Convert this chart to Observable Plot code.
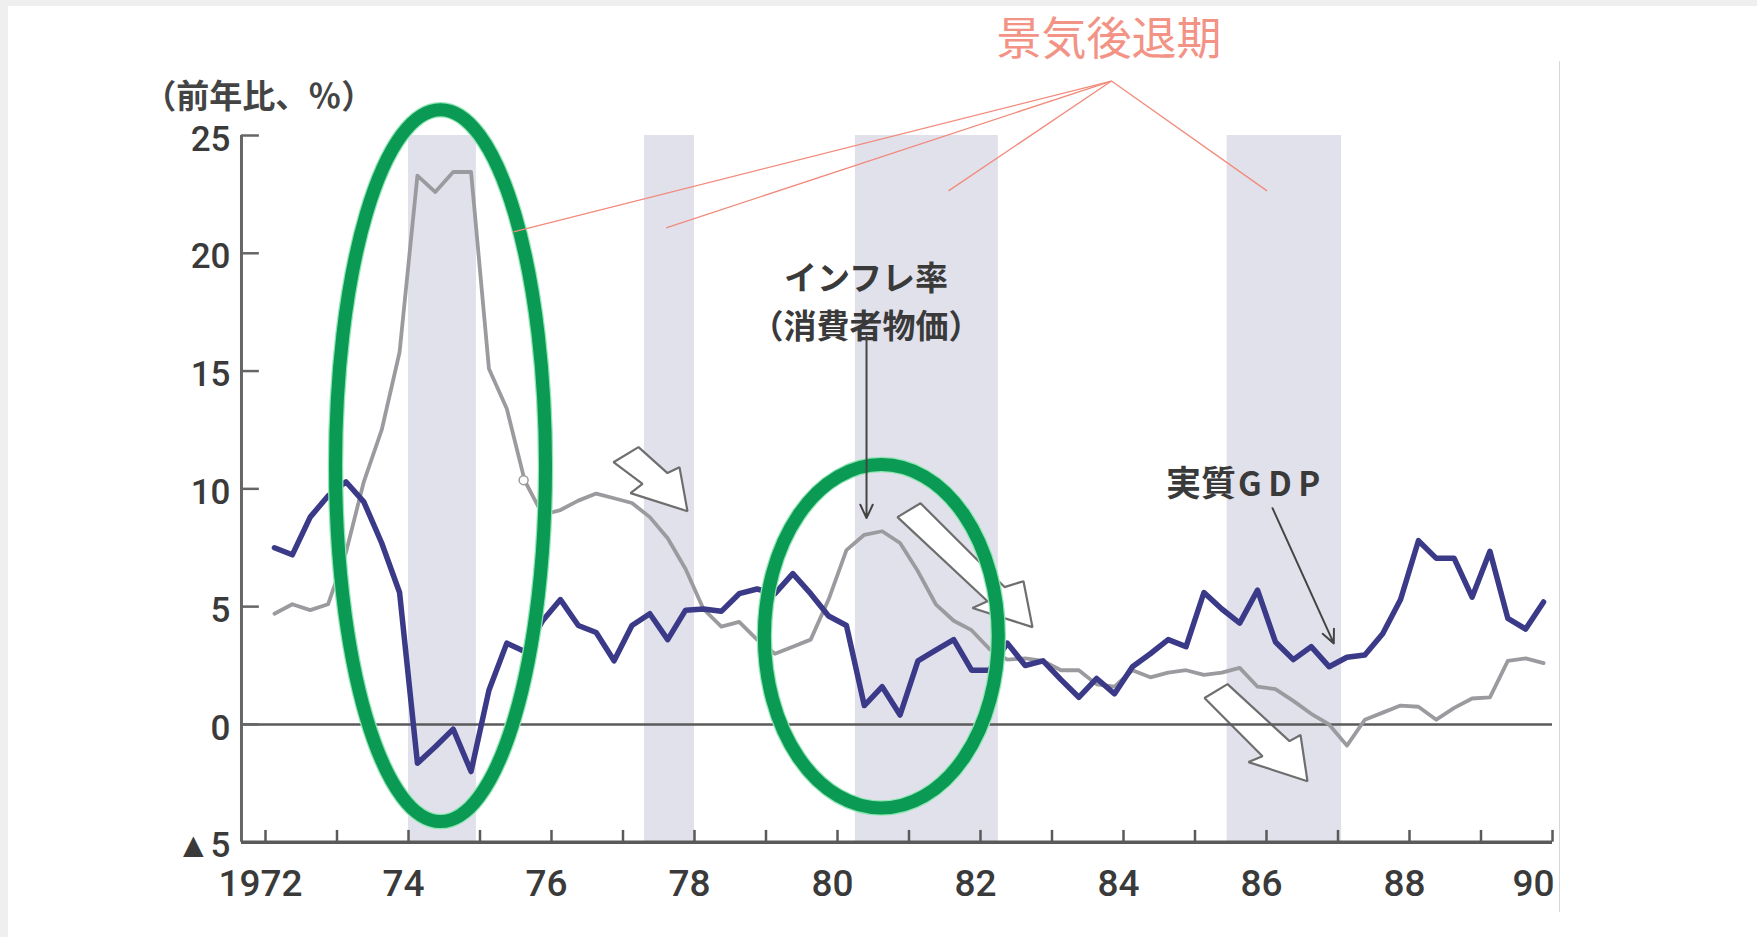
<!DOCTYPE html>
<html><head><meta charset="utf-8">
<script src="https://cdn.jsdelivr.net/npm/d3@7"></script>
<script src="https://cdn.jsdelivr.net/npm/@observablehq/plot@0.6"></script>
<style>
html,body{margin:0;padding:0;background:#efefef;width:1757px;height:937px;overflow:hidden}
#paper{position:absolute;left:8px;top:6px;width:1749px;height:931px;background:#fff}
#edge{position:absolute;left:1559px;top:61px;width:1px;height:851px;background:#d8d8d8}
#chart{position:absolute;left:0;top:0;width:1757px;height:937px}
</style></head><body>
<div id="paper"></div>
<div id="edge"></div>
<div id="chart"></div>
<script>
// ---- data (quarterly, year-on-year %) ----
const startYear = 1972;
const gdp = [
  7.5, 7.2, 8.8, 9.7,     // 1972
  10.3, 9.45, 7.7, 5.6,   // 1973
  -1.65, -0.95, -0.2, -2.0, // 1974
  1.45, 3.45, 3.1, 4.4,   // 1975
  5.3, 4.2, 3.9, 2.7,     // 1976
  4.2, 4.7, 3.6, 4.85,    // 1977
  4.9, 4.8, 5.55, 5.75,   // 1978
  5.55, 6.4, 5.55, 4.6,   // 1979
  4.2, 0.8, 1.6, 0.4,     // 1980
  2.7, 3.15, 3.6, 2.3,    // 1981
  2.3, 3.45, 2.5, 2.7,    // 1982
  1.9, 1.15, 1.95, 1.3,   // 1983
  2.45, 3.0, 3.6, 3.3,    // 1984
  5.6, 4.9, 4.3, 5.7,     // 1985
  3.5, 2.75, 3.3, 2.45,   // 1986
  2.85, 2.95, 3.85, 5.3,  // 1987
  7.8, 7.05, 7.05, 5.4,   // 1988
  7.35, 4.5, 4.05, 5.2    // 1989
];
const cpi = [
  4.7, 5.1, 4.85, 5.1,    // 1972
  7.3, 10.3, 12.5, 15.8,  // 1973
  23.3, 22.6, 23.45, 23.45, // 1974
  15.1, 13.4, 10.35, 8.9, // 1975
  9.1, 9.5, 9.8, 9.6,     // 1976
  9.4, 8.8, 7.9, 6.6,     // 1977
  4.9, 4.15, 4.35, 3.6,   // 1978
  3.0, 3.3, 3.6, 5.3,     // 1979
  7.4, 8.05, 8.2, 7.7,    // 1980
  6.5, 5.1, 4.4, 4.0,     // 1981
  3.2, 2.75, 2.8, 2.7,    // 1982
  2.3, 2.3, 1.7, 1.6,     // 1983
  2.3, 2.0, 2.2, 2.3,     // 1984
  2.1, 2.2, 2.4, 1.6,     // 1985
  1.5, 1.0, 0.45, 0.0,    // 1986
  -0.9, 0.2, 0.5, 0.8,    // 1987
  0.75, 0.2, 0.7, 1.1,    // 1988
  1.15, 2.7, 2.8, 2.6     // 1989
];
const cpiMarker = [{t: 1975.61, v: 10.37}];

// recession periods (景気後退期)
const recessionStart = [1974.0, 1977.3, 1980.25, 1985.45];
const recessionEnd   = [1974.95, 1978.0, 1982.25, 1987.05];

// axes
const yTicks = [-5, 0, 5, 10, 15, 20, 25];
const yTickLabels = ["▲5", "0", "5", "10", "15", "20", "25"];
const xTickYears = [1972,1973,1974,1975,1976,1977,1978,1979,1980,1981,1982,1983,1984,1985,1986,1987,1988,1989,1990];
const xLabelYears = [1972, 1974, 1976, 1978, 1980, 1982, 1984, 1986, 1988];
const xLabels = ["1972", "74", "76", "78", "80", "82", "84", "86", "88"];
const xLastYear = [1990];
const xLastLabel = ["90"];
const axisX0 = 1971.664;

// annotation geometry in data units (year, %)
const arrowA = [[1976.867,11.13],[1977.217,11.77],[1977.622,10.67],[1977.79,10.92],[1977.902,9.05],[1977.105,9.82],[1977.273,10.21]];
const arrowB = [[1980.839,8.80],[1981.161,9.39],[1982.336,5.83],[1982.601,6.08],[1982.727,4.13],[1981.888,4.94],[1982.098,5.23]];
const arrowC = [[1985.133,1.12],[1985.455,1.71],[1986.322,-0.71],[1986.476,-0.45],[1986.573,-2.41],[1985.748,-1.60],[1985.944,-1.35]];
const ellipses = [
  {cx: 1974.455, cy: 10.965, rx: 1.4685, ry: 15.11},
  {cx: 1980.62, cy: 3.72, rx: 1.636, ry: 7.29}
];
const salmonApex = [1983.832, 27.31];
const salmonEnds = [[1975.469, 20.91], [1977.603, 21.08], [1981.552, 22.65], [1986.007, 22.65]];
const pointers = [
  {x1: 1980.406, y1: 16.48, x2: 1980.406, y2: 8.76},
  {x1: 1986.084, y1: 9.18, x2: 1986.941, y2: 3.44}
];

// ---- build tables ----
const toRows = arr => arr.map((v, i) => ({t: startYear + (i + 0.5) / 4, v}));
const gdpRows = toRows(gdp);
const cpiRows = toRows(cpi);
const recessions = recessionStart.map((s, i) => ({start: s, end: recessionEnd[i]}));
const arrowRows = [["A", arrowA], ["B", arrowB], ["C", arrowC]]
  .flatMap(([id, pts]) => pts.map(([x, y]) => ({id, x, y})));
const salmonRows = salmonEnds.map(([x, y]) => ({x1: salmonApex[0], y1: salmonApex[1], x2: x, y2: y}));
const yLabelRows = yTicks.map((v, i) => ({v, label: yTickLabels[i]}));
const xLabelRows = xLabelYears.map((y, i) => ({y, label: xLabels[i]}));
const xLastRows = xLastYear.map((y, i) => ({y, label: xLastLabel[i]}));

const numFont = "Roboto, 'Liberation Sans', sans-serif";
const cjkFont = "'Noto Sans CJK JP', 'Noto Sans', sans-serif";
const axisColor = "#5a5a5a";
const textColor = "#3a3a3a";

const plot = Plot.plot({
  width: 1757, height: 937,
  marginLeft: 265, marginRight: 205, marginTop: 135, marginBottom: 95.3,
  x: {domain: [1972, 1990], axis: null},
  y: {domain: [-5, 25], axis: null},
  style: {background: "transparent", overflow: "visible"},
  marks: [
    Plot.rect(recessions, {x1: "start", x2: "end", y1: -5, y2: 25, fill: "#e1e1ec"}),
    Plot.line(arrowRows, {x: "x", y: "y", z: "id", curve: "linear-closed", fill: "white", stroke: "#6e6e6e", strokeWidth: 2.2, strokeLinejoin: "miter"}),
    Plot.ruleY([0], {x1: axisX0, x2: 1990, stroke: axisColor, strokeWidth: 2.5}),
    Plot.line(cpiRows, {x: "t", y: "v", stroke: "#9b9b9f", strokeWidth: 3.8}),
    Plot.dot(cpiMarker, {x: "t", y: "v", r: 4.5, fill: "white", stroke: "#9b9b9f", strokeWidth: 1.5}),
    Plot.line(gdpRows, {x: "t", y: "v", stroke: "#3b3a88", strokeWidth: 5.5}),
    // axes
    Plot.ruleX([axisX0], {y1: -5, y2: 25, stroke: "#666", strokeWidth: 3}),
    Plot.ruleY(yTicks, {x1: axisX0, x2: axisX0 + 0.25, stroke: "#666", strokeWidth: 2.5}),
    Plot.ruleY([-5], {x1: axisX0, x2: 1990, stroke: axisColor, strokeWidth: 3.5}),
    Plot.ruleX(xTickYears, {y1: -5, y2: -4.5, stroke: axisColor, strokeWidth: 2.5}),
    Plot.text(yLabelRows, {x: axisX0, y: "v", text: "label", dx: -11, dy: 4, textAnchor: "end", fontSize: 35, fontWeight: 500, fontFamily: numFont, fill: textColor}),
    Plot.text(xLabelRows, {x: "y", y: -5, text: "label", dx: -5, dy: 42, fontSize: 37, fontWeight: 500, fontFamily: numFont, fill: textColor}),
    Plot.text(xLastRows, {x: "y", y: -5, text: "label", dx: 2, dy: 42, textAnchor: "end", fontSize: 37, fontWeight: 500, fontFamily: numFont, fill: textColor}),
    // salmon annotation
    Plot.link(salmonRows, {x1: "x1", y1: "y1", x2: "x2", y2: "y2", stroke: "#f28a7b", strokeWidth: 1.3}),
    Plot.text(["景気後退期"], {x: 1983.797, y: 29.05, text: d => d, fontSize: 45, fontWeight: 400, fontFamily: cjkFont, fill: "#f39385"}),
    // labels
    Plot.text(["（前年比、％）"], {x: 1970.29, y: 26.63, text: d => d, textAnchor: "start", fontSize: 33, fontWeight: 700, fontFamily: cjkFont, fill: "#444"}),
    Plot.text(["インフレ率\n（消費者物価）"], {x: 1980.4, y: 18.075, text: d => d, lineHeight: 1.46, fontSize: 33, fontWeight: 700, fontFamily: cjkFont, fill: textColor}),
    Plot.text(["実質"], {x: 1984.594, y: 10.16, text: d => d, textAnchor: "start", fontSize: 35, fontWeight: 700, fontFamily: cjkFont, fill: textColor}),
    Plot.text(["G\u2009D\u2009P"], {x: 1985.6, y: 10.16, text: d => d, textAnchor: "start", fontSize: 33, fontWeight: 700, fontFamily: cjkFont, fill: textColor}),
    Plot.arrow(pointers, {x1: "x1", y1: "y1", x2: "x2", y2: "y2", stroke: "#444", strokeWidth: 2, headLength: 11, headAngle: 50})
  ]
});

document.getElementById("chart").appendChild(plot);

// ellipse highlights placed through the plot's own scales
const sx = plot.scale("x"), sy = plot.scale("y");
const svg = d3.select(plot);
const g = svg.insert("g", "g[aria-label='link']").attr("fill", "none");
for (const e of ellipses) {
  const cx = sx.apply(e.cx), cy = sy.apply(e.cy);
  const rx = sx.apply(e.cx + e.rx) - cx, ry = sy.apply(e.cy - e.ry) - cy;
  g.append("ellipse").attr("cx", cx).attr("cy", cy).attr("rx", rx).attr("ry", ry)
    .attr("stroke", "#8fe6b4").attr("stroke-width", 15.5);
  g.append("ellipse").attr("cx", cx).attr("cy", cy).attr("rx", rx).attr("ry", ry)
    .attr("stroke", "#0b9a53").attr("stroke-width", 13);
}
</script>
</body></html>
